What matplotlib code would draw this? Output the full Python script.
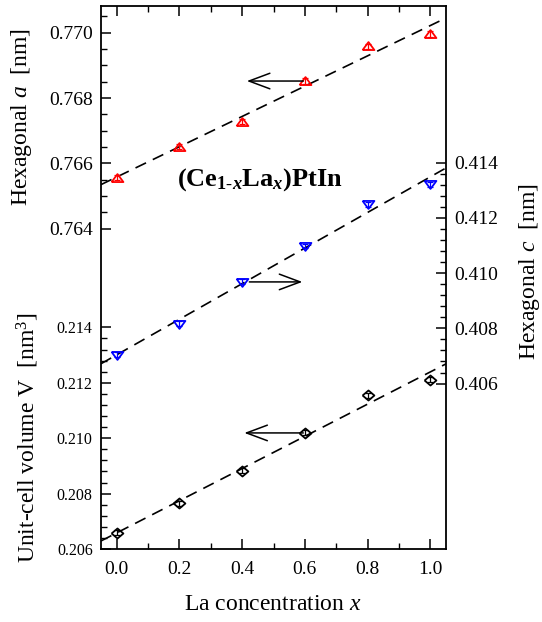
import numpy as np
import matplotlib
matplotlib.use("Agg")
import matplotlib.pyplot as plt
from matplotlib.ticker import FixedLocator, FormatStrFormatter

plt.rcParams['font.family'] = ['Liberation Serif', 'DejaVu Serif']
plt.rcParams['mathtext.fontset'] = 'custom'
plt.rcParams['mathtext.rm'] = 'Liberation Serif'
plt.rcParams['mathtext.it'] = 'Liberation Serif:italic'
plt.rcParams['mathtext.bf'] = 'Liberation Serif:bold'
plt.rcParams['mathtext.bfit'] = 'Liberation Serif:bold:italic'

# La concentration
x = [0.0, 0.2, 0.4, 0.6, 0.8, 1.0]
# hexagonal a [nm]
a_nm = [0.76556, 0.76651, 0.76727, 0.76852, 0.76958, 0.76996]
a_err = [0.00008, 0.00008, 0.00008, 0.00008, 0.00008, 0.00008]
# hexagonal c [nm]
c_nm = [0.40704, 0.40817, 0.40968, 0.41098, 0.41249, 0.41321]
c_err = [0.00009, 0.00009, 0.00009, 0.00009, 0.00009, 0.00009]
# unit-cell volume [nm^3]
v_nm3 = [0.20658, 0.20766, 0.20883, 0.21019, 0.21155, 0.21211]
v_err = [0.00009, 0.00009, 0.00009, 0.00009, 0.00009, 0.00009]

a_ticks = [0.764, 0.766, 0.768, 0.770]
c_ticks = [0.406, 0.408, 0.410, 0.412, 0.414]
v_ticks = [0.206, 0.208, 0.210, 0.212, 0.214]
x_ticks = [0.0, 0.2, 0.4, 0.6, 0.8, 1.0]

tri_up = [(-1, -0.6), (1, -0.6), (0, 0.75), (-1, -0.6)]
tri_dn = [(-1, 0.6), (1, 0.6), (0, -0.75), (-1, 0.6)]
diamond = [(-1, 0), (0, 0.85), (1, 0), (0, -0.85), (-1, 0)]

fig = plt.figure(figsize=(5.42, 6.22), dpi=100)
pos = [101 / 542, 73 / 622, 345 / 542, 543 / 622]

ax = fig.add_axes(pos)
ax_v = fig.add_axes(pos, sharex=ax)
ax_c = fig.add_axes(pos, sharex=ax)
for extra in (ax_v, ax_c):
    extra.patch.set_visible(False)
    for s in extra.spines.values():
        s.set_visible(False)
    extra.tick_params(axis='x', which='both', bottom=False, top=False,
                      labelbottom=False)

for s in ax.spines.values():
    s.set_linewidth(1.3)

ax.set_xlim(-0.05, 1.05)
ax.set_ylim(0.754195, 0.770817)
ax_v.set_ylim(0.206, 0.225602)
ax_c.set_ylim(0.40001, 0.41967)

xf = np.array([-0.05, 1.05])
series = [
    (ax, a_nm, a_err, tri_up, 'red'),
    (ax_c, c_nm, c_err, tri_dn, 'blue'),
    (ax_v, v_nm3, v_err, diamond, 'black'),
]
for axis, vals, err, mk, col in series:
    p = np.polyfit(x, vals, 1)
    axis.plot(xf, np.polyval(p, xf), color='black', lw=1.2,
              dashes=(7, 4.5), zorder=1)
    axis.errorbar(x, vals, yerr=err, fmt='none', ecolor=col, elinewidth=0.9,
                  capsize=2.5, capthick=0.9, zorder=2)
    axis.plot(x, vals, ls='none', marker=mk, ms=8.5, mfc='none', mec=col,
              mew=1.3, zorder=3)

# ticks
ax.xaxis.set_major_locator(FixedLocator(x_ticks))
ax.xaxis.set_minor_locator(FixedLocator([0.1, 0.3, 0.5, 0.7, 0.9]))
ax.xaxis.set_major_formatter(FormatStrFormatter('%.1f'))
ax.tick_params(axis='x', which='both', direction='in', top=True, bottom=True,
               labelsize=14, pad=9)
ax.tick_params(axis='y', which='both', direction='in', left=True, right=False,
               labelsize=14, pad=6)
ax.tick_params(which='major', length=7, width=1.1)
ax.tick_params(which='minor', length=4, width=1.0)

ax.yaxis.set_major_locator(FixedLocator(a_ticks))
ax.yaxis.set_minor_locator(FixedLocator(np.round(np.arange(0.7645, 0.7706, 0.0005), 4)))
ax.yaxis.set_major_formatter(FormatStrFormatter('%.3f'))

ax_v.yaxis.set_major_locator(FixedLocator(v_ticks))
ax_v.yaxis.set_minor_locator(FixedLocator(np.round(np.arange(0.2064, 0.2137, 0.0004), 4)))
ax_v.yaxis.set_major_formatter(FormatStrFormatter('%.3f'))
ax_v.tick_params(axis='y', which='both', direction='in', left=True, right=False,
                 labelsize=11.5, pad=6)
ax_v.tick_params(which='major', length=7, width=1.1)
ax_v.tick_params(which='minor', length=4, width=1.0)

ax_c.yaxis.tick_right()
ax_c.yaxis.set_major_locator(FixedLocator(c_ticks))
ax_c.yaxis.set_minor_locator(FixedLocator(np.round(np.arange(0.4064, 0.4137, 0.0004), 4)))
ax_c.yaxis.set_major_formatter(FormatStrFormatter('%.3f'))
ax_c.tick_params(axis='y', which='both', direction='in', left=False, right=True,
                 labelsize=14, pad=6)
ax_c.tick_params(which='major', length=7, width=1.1)
ax_c.tick_params(which='minor', length=4, width=1.0)

# arrows pointing to each series' axis
arrow_kw = dict(arrowstyle='->,head_length=0.75,head_width=0.28', lw=1.1,
                color='black', shrinkA=0, shrinkB=0, mutation_scale=20)
ax.annotate('', xy=(0.415, a_nm[3]), xytext=(0.595, a_nm[3]), arrowprops=arrow_kw)
ax_c.annotate('', xy=(0.592, c_nm[2]), xytext=(0.423, c_nm[2]), arrowprops=arrow_kw)
ax_v.annotate('', xy=(0.407, v_nm3[3]), xytext=(0.595, v_nm3[3]), arrowprops=arrow_kw)

fig.text(260 / 542, 1 - 186 / 622,
         r'$\mathbf{(Ce}_{\mathbf{1\text{-}}\mathbfit{x}}\mathbf{La}_{\mathbfit{x}}\mathbf{)PtIn}$',
         fontsize=19, ha='center', va='baseline')

fig.text(22 / 542, 1 - 117 / 622, r'Hexagonal $a$  [nm]', rotation=90,
         fontsize=17, ha='center', va='center')
fig.text(28 / 542, 1 - 438 / 622, r'Unit-cell volume V  [nm$^3$]', rotation=90,
         fontsize=17, ha='center', va='center')
fig.text(530 / 542, 1 - 272 / 622, r'Hexagonal $c$  [nm]', rotation=90,
         fontsize=17, ha='center', va='center')
fig.text(273 / 542, 1 - 604 / 622, r'La concentration $x$',
         fontsize=17, ha='center', va='center')

fig.savefig('out.png', dpi=100)
